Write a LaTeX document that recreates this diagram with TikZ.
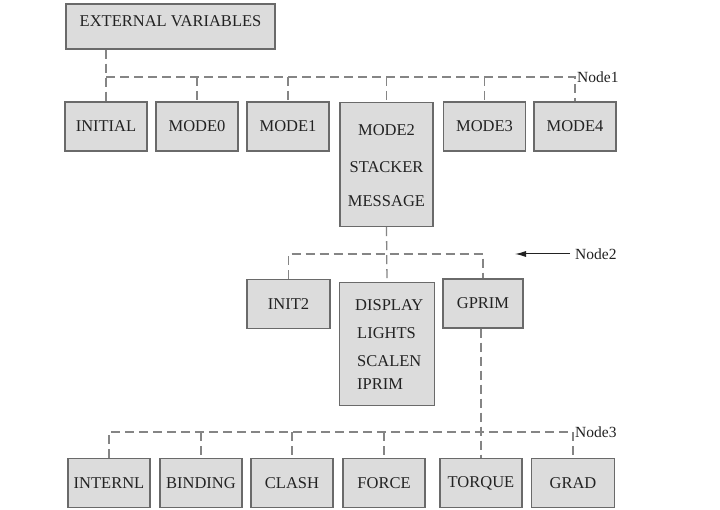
\documentclass[tikz,border=0pt]{standalone}
\usepackage{fontspec}
\setmainfont{Liberation Serif}
\usetikzlibrary{arrows.meta}
\definecolor{boxfill}{HTML}{DCDCDC}
\definecolor{boxline}{HTML}{6A6A6A}
\definecolor{busline}{HTML}{858585}
\definecolor{txt}{HTML}{222222}
\begin{document}
\begin{tikzpicture}[x=1pt,y=-1pt,
  box/.style={draw=boxline, fill=boxfill, line width=1.1pt, inner sep=0pt, minimum width=82pt, minimum height=49pt, text=txt, font=\fontsize{16.5pt}{18pt}\selectfont},
  lbl/.style={text=txt, inner sep=0pt, font=\fontsize{16.5pt}{18pt}\selectfont},
  bus/.style={draw=busline, line width=1.3pt, dash pattern=on 9pt off 5pt},
  tag/.style={text=txt, inner sep=0pt, anchor=west, font=\fontsize{15.5pt}{18pt}\selectfont}]
\useasboundingbox[fill=white] (0,0) rectangle (720,510);

% top
\node[box, minimum width=209pt, minimum height=45pt] (ext) at (170.5,26.5) {};
\node[lbl] (extt) at (170.5,21) {EXTERNAL VARIABLES};

% row 1
\node[box] (initial) at (106,126.5) {INITIAL};
\node[box] (mode0) at (197,126.5) {MODE0};
\node[box] (mode1) at (288,126.5) {MODE1};
\node[box, minimum width=93pt, minimum height=124pt, anchor=north] (mode2) at (386.5,102) {};
\node[lbl] (m2a) at (386.5,130) {MODE2};
\node[lbl] (m2b) at (386.5,167) {STACKER};
\node[lbl] (m2c) at (386.5,201) {MESSAGE};
\node[box] (mode3) at (484.5,126.5) {MODE3};
\node[box] (mode4) at (575,126.5) {MODE4};

\coordinate (n1) at (0,77);
\draw[bus] (ext.south -| initial) -- (initial.north);
\draw[bus] (initial.north |- n1) -- (mode4.north |- n1) -- (mode4.north);
\foreach \n in {mode0,mode1,mode2,mode3}
  \draw[bus] (\n.north |- n1) -- (\n.north);
\node[tag] (node1) at (577,77) {Node1};

% row 2
\node[box, minimum width=83pt] (init2) at (288.5,304) {INIT2};
\node[box, minimum width=95pt, minimum height=123pt, anchor=north] (display) at (387,282) {};
\node[lbl, anchor=west] (d1) at (355,305) {DISPLAY};
\node[lbl, anchor=west] (d2) at (357,333) {LIGHTS};
\node[lbl, anchor=west] (d3) at (357,361) {SCALEN};
\node[lbl, anchor=west] (d4) at (357,384) {IPRIM};
\node[box, minimum width=80pt] (gprim) at (483,303.5) {GPRIM};

\coordinate (n2) at (0,254);
\draw[bus] (mode2.south) -- (display.north);
\draw[bus] (init2.north) -- (init2.north |- n2) -- (gprim.north |- n2) -- (gprim.north);
\node[tag] (node2) at (575,254) {Node2};
\coordinate (n2tip) at (515,254);
\draw[line width=1pt, draw=txt, -{Latex[length=11pt,width=6pt]}] (node2.west) ++(-5,0) -- (n2tip);

% row 3
\node[box] (internl) at (109,483) {INTERNL};
\node[box] (binding) at (201,483) {BINDING};
\node[box] (clash) at (292,483) {CLASH};
\node[box] (force) at (384,483) {FORCE};
\node[box] (torque) at (481,483) {TORQUE};
\node[box, minimum width=83pt] (grad) at (573,483) {GRAD};

\coordinate (n3) at (0,432);
\draw[bus] (internl.north) -- (internl.north |- n3) -- (grad.north |- n3) -- (grad.north);
\foreach \n in {binding,clash,force}
  \draw[bus] (\n.north |- n3) -- (\n.north);
\draw[bus] (torque.north |- gprim.south) -- (torque.north);
\node[tag] (node3) at (575,432) {Node3};
\end{tikzpicture}
\end{document}
